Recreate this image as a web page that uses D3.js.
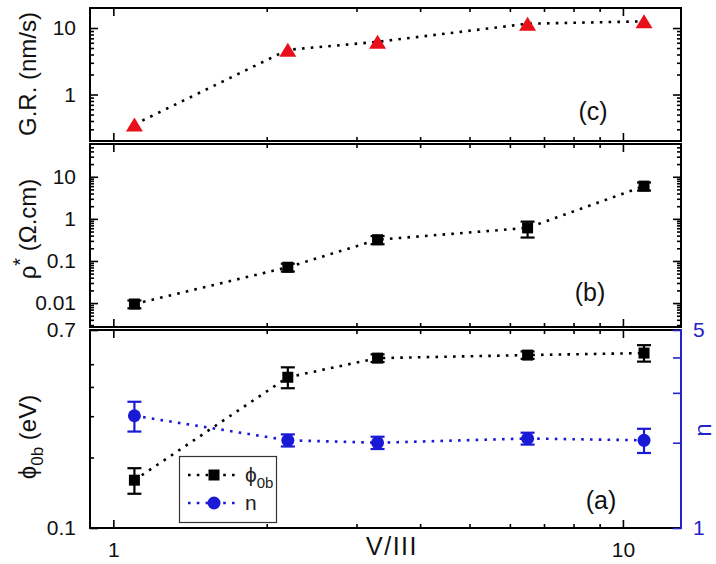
<!DOCTYPE html>
<html>
<head>
<meta charset="utf-8">
<script src="https://cdn.jsdelivr.net/npm/d3@7"></script>
<style>
  body { margin: 0; background: #fff; }
  svg { display: block; font-family: "Liberation Sans", Arial, sans-serif; }
</style>
</head>
<body>
<svg id="chart" width="716" height="564"></svg>
<script>
// V/III ratio for each sample
const ratioV3 = [1.1, 2.2, 3.3, 6.5, 11];

// (c) growth rate, nm/s
const growthRate = [0.355, 4.7, 6.2, 11.6, 12.6];

// (b) resistivity, Ohm.cm
const resistivity = [0.0095, 0.071, 0.32, 0.61, 6.0];
const resistivityErr = [0.002, 0.015, 0.07, 0.25, 1.3];

// (a) barrier height (eV) and ideality factor
const barrier = [0.16, 0.44, 0.531, 0.547, 0.558];
const barrierErr = [0.02, 0.045, 0.02, 0.02, 0.045];
const ideality = [2.49, 2.04, 2.0, 2.07, 2.04];
const idealityErr = [0.3, 0.1, 0.1, 0.1, 0.2];

// Tick values
const xMajor = [1, 10];
const xMinor = [2, 3, 4, 5, 6, 7, 8, 9];
const grMajor = [1, 10];
const rhoMajor = [0.01, 0.1, 1, 10];
const phiMajor = [0.1, 0.7];
const phiMinor = [0.2, 0.3, 0.4, 0.5];
const nMajor = [1, 5];
const nMinor = [2, 3, 4];

const svg = d3.select("#chart");
const left = 90, right = 681;
const BLUE = "#1a1ad6", RED = "#e8101a", AXBLUE = "#2323c8";

const x = d3.scaleLog().domain([0.9, 13]).range([left, right]);

const panels = {
  c: { top: 8, bottom: 141 },
  b: { top: 144, bottom: 327 },
  a: { top: 330, bottom: 528 }
};

const yGR = d3.scaleLog().domain([0.2, 20]).range([panels.c.bottom, panels.c.top]);
const yRho = d3.scaleLog().domain([0.0027, 60]).range([panels.b.bottom, panels.b.top]);
const yPhi = d3.scaleLog().domain([0.1, 0.7]).range([panels.a.bottom, panels.a.top]);
const yN = d3.scaleLog().domain([1, 5]).range([panels.a.bottom, panels.a.top]);

// standard log-scale minor ticks inside a domain
function logMinor(scale) {
  const [a, b] = scale.domain();
  const out = [];
  for (let e = Math.floor(Math.log10(a)); e <= Math.ceil(Math.log10(b)); e++) {
    for (let m = 2; m <= 9; m++) {
      const v = m * Math.pow(10, e);
      if (v > a && v < b) out.push(v);
    }
  }
  return out;
}

function fmt(v) { return String(+v.toPrecision(3)); }

function drawAxis(gen, scale, pos, values, size, labels, color) {
  const g = svg.append("g").attr("transform", pos);
  g.call(gen(scale).tickValues(values).tickSizeInner(-size).tickSizeOuter(0)
    .tickPadding(size + 6).tickFormat(labels ? fmt : () => ""));
  g.select(".domain").remove();
  g.selectAll(".tick line").attr("stroke", color || "#000").attr("stroke-width", 1.6);
  g.selectAll(".tick text").attr("fill", color || "#111").attr("font-size", 21)
    .attr("font-family", "Liberation Sans, Arial, sans-serif");
  return g;
}

function panelAxes(p, yScale, yMajor, yMinor, opts) {
  const { top, bottom } = p;
  // x ticks on both horizontal edges, pointing inward
  drawAxis(d3.axisBottom, x, `translate(0,${bottom})`, xMajor, 8, opts.xLabels);
  drawAxis(d3.axisBottom, x, `translate(0,${bottom})`, xMinor, 4, false);
  drawAxis(d3.axisTop, x, `translate(0,${top})`, xMajor, 8, false);
  drawAxis(d3.axisTop, x, `translate(0,${top})`, xMinor, 4, false);
  // y ticks left
  drawAxis(d3.axisLeft, yScale, `translate(${left},0)`, yMajor, 8, true);
  drawAxis(d3.axisLeft, yScale, `translate(${left},0)`, yMinor, 4, false);
  // y ticks right (mirror or second axis)
  if (!opts.noRightMirror) {
    drawAxis(d3.axisRight, yScale, `translate(${right},0)`, yMajor, 8, false);
    drawAxis(d3.axisRight, yScale, `translate(${right},0)`, yMinor, 4, false);
  }
  // frame
  svg.append("path")
    .attr("d", `M${right},${top}H${left}V${bottom}H${right}` + (opts.noRightMirror ? "" : "Z"))
    .attr("fill", "none").attr("stroke", "#000").attr("stroke-width", 2);
}

panelAxes(panels.c, yGR, grMajor, logMinor(yGR), { xLabels: false });
panelAxes(panels.b, yRho, rhoMajor, logMinor(yRho), { xLabels: false });
panelAxes(panels.a, yPhi, phiMajor, phiMinor, { xLabels: true, noRightMirror: true });

// right axis for n (blue)
drawAxis(d3.axisRight, yN, `translate(${right},0)`, nMajor, 8, true, AXBLUE)
  .selectAll(".tick text").attr("x", 12);
drawAxis(d3.axisRight, yN, `translate(${right},0)`, nMinor, 8, false, AXBLUE);
svg.append("line").attr("x1", right).attr("x2", right)
  .attr("y1", panels.a.top - 1).attr("y2", panels.a.bottom + 1)
  .attr("stroke", AXBLUE).attr("stroke-width", 2);

// dotted connecting line
function dotted(data, xs, ys, color) {
  svg.append("path")
    .datum(data)
    .attr("d", d3.line().x((d, i) => xs(ratioV3[i])).y(d => ys(d)))
    .attr("fill", "none").attr("stroke", color).attr("stroke-width", 2.6)
    .attr("stroke-dasharray", "2.6 6.2");
}

function errorBars(vals, errs, ys, color) {
  const g = svg.append("g").attr("stroke", color).attr("stroke-width", 2.2);
  vals.forEach((v, i) => {
    const cx = x(ratioV3[i]);
    const y1 = ys(v + errs[i]), y2 = ys(v - errs[i]);
    g.append("line").attr("x1", cx).attr("x2", cx).attr("y1", y1).attr("y2", y2);
    g.append("line").attr("x1", cx - 7).attr("x2", cx + 7).attr("y1", y1).attr("y2", y1);
    g.append("line").attr("x1", cx - 7).attr("x2", cx + 7).attr("y1", y2).attr("y2", y2);
  });
}

function squares(vals, ys, color) {
  svg.append("g").selectAll("rect").data(vals).join("rect")
    .attr("x", (d, i) => x(ratioV3[i]) - 5.5).attr("y", d => ys(d) - 5.5)
    .attr("width", 11).attr("height", 11).attr("fill", color);
}

function circles(vals, ys, color) {
  svg.append("g").selectAll("circle").data(vals).join("circle")
    .attr("cx", (d, i) => x(ratioV3[i])).attr("cy", d => ys(d))
    .attr("r", 6.5).attr("fill", color);
}

function triangles(vals, ys, color) {
  svg.append("g").selectAll("path").data(vals).join("path")
    .attr("d", (d, i) => {
      const cx = x(ratioV3[i]), cy = ys(d);
      return `M${cx},${cy - 7}L${cx + 8.5},${cy + 7}L${cx - 8.5},${cy + 7}Z`;
    })
    .attr("fill", color);
}

// (c)
dotted(growthRate, x, yGR, "#000");
triangles(growthRate, yGR, RED);

// (b)
dotted(resistivity, x, yRho, "#000");
errorBars(resistivity, resistivityErr, yRho, "#000");
squares(resistivity, yRho, "#000");

// (a)
dotted(barrier, x, yPhi, "#000");
dotted(ideality, x, yN, BLUE);
errorBars(barrier, barrierErr, yPhi, "#000");
squares(barrier, yPhi, "#000");
errorBars(ideality, idealityErr, yN, BLUE);
circles(ideality, yN, BLUE);

// panel tags
const tag = (t, px, py) => svg.append("text").attr("x", px).attr("y", py)
  .attr("text-anchor", "middle").attr("font-size", 25).attr("fill", "#111").text(t);
tag("(c)", 593, 120);
tag("(b)", 590, 301);
tag("(a)", 601, 509);

// axis titles
function vTitle(cx, cy, build, color) {
  const t = svg.append("text")
    .attr("transform", `translate(${cx},${cy}) rotate(-90)`)
    .attr("text-anchor", "middle").attr("font-size", 24).attr("fill", color || "#111");
  build(t);
}
vTitle(36, 74, t => t.text("G.R. (nm/s)"));
vTitle(36, 229, t => {
  t.append("tspan").text("ρ");
  t.append("tspan").attr("dy", -9).attr("font-size", 20).text("*");
  t.append("tspan").attr("dy", 9).text(" (Ω.cm)");
});
vTitle(36, 437, t => {
  t.append("tspan").text("ϕ");
  t.append("tspan").attr("dy", 7).attr("font-size", 17).text("0b");
  t.append("tspan").attr("dy", -7).text(" (eV)");
});
vTitle(711, 430, t => t.text("n"), AXBLUE);

svg.append("text").attr("x", 392).attr("y", 555).attr("text-anchor", "middle")
  .attr("font-size", 25).attr("letter-spacing", 1.5).attr("fill", "#111").text("V/III");

// legend
const lg = svg.append("g");
lg.append("rect").attr("x", 179.5).attr("y", 456.5).attr("width", 97).attr("height", 66)
  .attr("fill", "#fff").attr("stroke", "#333").attr("stroke-width", 1.2);
const legendItems = [
  { color: "#000", shape: "square", y: 475, label: "ϕ", sub: "0b" },
  { color: BLUE, shape: "circle", y: 503, label: "n", sub: null }
];
legendItems.forEach(it => {
  lg.append("line").attr("x1", 188).attr("x2", 238).attr("y1", it.y).attr("y2", it.y)
    .attr("stroke", it.color).attr("stroke-width", 2.6).attr("stroke-dasharray", "2.6 6.2");
  if (it.shape === "square") {
    lg.append("rect").attr("x", 208.5).attr("y", it.y - 5.5).attr("width", 11).attr("height", 11)
      .attr("fill", it.color);
  } else {
    lg.append("circle").attr("cx", 214).attr("cy", it.y).attr("r", 6.5).attr("fill", it.color);
  }
  const t = lg.append("text").attr("x", 245).attr("y", it.y + 7).attr("font-size", 21).attr("fill", "#222");
  t.append("tspan").text(it.label);
  if (it.sub) t.append("tspan").attr("dy", 6).attr("font-size", 15).text(it.sub);
});
</script>
</body>
</html>
